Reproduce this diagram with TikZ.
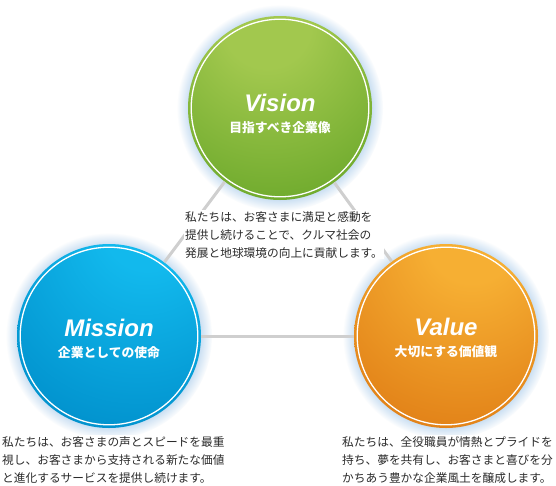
\documentclass[tikz,border=0pt]{standalone}
\usepackage{fontspec}
\newfontfamily\jpfont{Noto Sans CJK JP}
\newfontfamily\titlefont{Liberation Sans}
\usetikzlibrary{shadows,fadings}

\definecolor{visionlight}{HTML}{A2C84E}
\definecolor{visiondark}{HTML}{64A426}
\definecolor{missionlight}{HTML}{12B9ED}
\definecolor{missiondark}{HTML}{008FCB}
\definecolor{valuelight}{HTML}{F6AF33}
\definecolor{valuedark}{HTML}{DF7B14}
\definecolor{linkgray}{HTML}{CFCFCF}
\definecolor{bodytext}{HTML}{2B2B2B}
\definecolor{glowblue}{HTML}{BBD6EF}

\pgfdeclareradialshading{visionball}{\pgfpoint{-4bp}{26bp}}{color(0bp)=(visionlight); color(12bp)=(visionlight); color(48bp)=(visiondark); color(100bp)=(visiondark)}
\pgfdeclareradialshading{missionball}{\pgfpoint{12bp}{34bp}}{color(0bp)=(missionlight); color(12bp)=(missionlight); color(48bp)=(missiondark); color(100bp)=(missiondark)}
\pgfdeclareradialshading{valueball}{\pgfpoint{8bp}{30bp}}{color(0bp)=(valuelight); color(12bp)=(valuelight); color(48bp)=(valuedark); color(100bp)=(valuedark)}

\begin{document}
\begin{tikzpicture}[x=1pt,y=-1pt]
\tikzset{
  ball/.style={circle,minimum size=184pt,inner sep=0pt,
    circular glow={fill=glowblue,shadow scale=1.12},
    path picture={\draw[white,line width=1.3pt] (path picture bounding box.center) circle (88.8pt);}},
  title/.style={text=white,font=\titlefont\bfseries\itshape\fontsize{24}{28}\selectfont},
  subtitle/.style={text=white,font=\jpfont\bfseries\fontsize{12.8}{15}\selectfont},
  link/.style={draw=linkgray,line width=3pt},
  para/.style={anchor=north west,align=left,inner sep=1pt,fill=white,text=bodytext,
    font=\jpfont\fontsize{11.7}{18}\selectfont}
}
\useasboundingbox (0,0) rectangle (556,485);
\fill[white] (0,0) rectangle (556,485);
\node[ball,shading=visionball] (n_vision) at (280,108) {};
\node[ball,shading=missionball] (n_mission) at (109,336) {};
\node[ball,shading=valueball] (n_value) at (446,336) {};
\draw[link] (n_vision) -- (n_mission);
\draw[link] (n_vision) -- (n_value);
\draw[link] (n_mission) -- (n_value);
\node[title] (t_vision) at (280,103) {Vision};
\node[subtitle] (s_vision) at (280,128) {目指すべき企業像};
\node[title] (t_mission) at (109,328) {Mission};
\node[subtitle] (s_mission) at (109,353) {企業としての使命};
\node[title] (t_value) at (446,327) {Value};
\node[subtitle] (s_value) at (446,352) {大切にする価値観};
\node[para] (p_vision) at (184,210) {私たちは、お客さまに満足と感動を\\提供し続けることで、クルマ社会の\\発展と地球環境の向上に貢献します。};
\node[para] (p_mission) at (1,435) {私たちは、お客さまの声とスピードを最重\\視し、お客さまから支持される新たな価値\\と進化するサービスを提供し続けます。};
\node[para] (p_value) at (341,435) {私たちは、全役職員が情熱とプライドを\\持ち、夢を共有し、お客さまと喜びを分\\かちあう豊かな企業風土を醸成します。};
\end{tikzpicture}
\end{document}
